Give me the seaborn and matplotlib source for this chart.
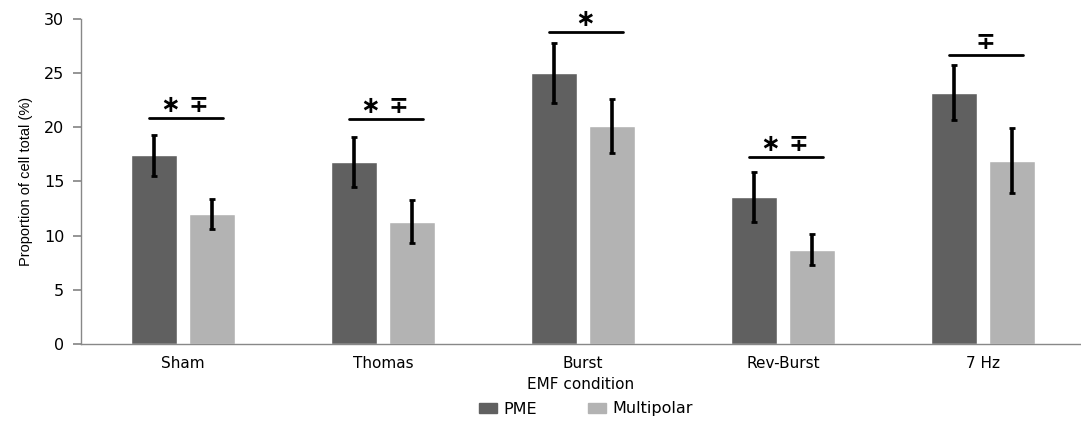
import numpy as np
import pandas as pd
import matplotlib
matplotlib.use("Agg")
import matplotlib.pyplot as plt
import seaborn as sns

# datos
conditions = ["Sham", "Thomas", "Burst", "Rev-Burst", "7 Hz"]
pme_mean = [17.4, 16.8, 25.0, 13.6, 23.2]
pme_err = [1.9, 2.3, 2.8, 2.3, 2.55]
multi_mean = [12.0, 11.3, 20.1, 8.7, 16.9]
multi_err = [1.4, 1.95, 2.5, 1.45, 3.0]
sig_labels = ["\u2217 \u2213", "\u2217 \u2213", "\u2217", "\u2217 \u2213", "\u2213"]
sig_level = [20.9, 20.8, 28.8, 17.3, 26.7]

df = pd.DataFrame({
    "condition": conditions * 2,
    "value": pme_mean + multi_mean,
    "err": pme_err + multi_err,
    "type": ["PME"] * 5 + ["Multipolar"] * 5,
})

sns.set_theme(style="white")
plt.rcParams["font.family"] = ["DejaVu Sans"]
plt.rcParams["text.color"] = "black"
plt.rcParams["axes.labelcolor"] = "black"
plt.rcParams["xtick.color"] = "black"
plt.rcParams["ytick.color"] = "black"

fig = plt.figure(figsize=(10.81, 4.21), dpi=100)
ax = fig.add_axes([81 / 1081, 77 / 421, 1000 / 1081, 325 / 421])

palette = {"PME": "#606060", "Multipolar": "#b3b3b3"}
sns.barplot(data=df, x="condition", y="value", hue="type", palette=palette,
            width=0.58, gap=0.2, errorbar=None, saturation=1, ax=ax,
            legend=False)

# barras de error a mano, usando la posicion de cada barra
bars = ax.patches[:10]
for bar, e in zip(bars, pme_err + multi_err):
    xc = bar.get_x() + bar.get_width() / 2
    ax.errorbar(xc, bar.get_height(), yerr=e, color="black", lw=2.6,
                capsize=2.5, capthick=2.0, zorder=5)

# lineas de significancia
for i, (lab, lvl) in enumerate(zip(sig_labels, sig_level)):
    ax.plot([i - 0.17, i + 0.2], [lvl, lvl], color="black", lw=2.0)
    ax.text(i + 0.01, lvl + 0.05, lab, ha="center", va="bottom",
            fontsize=17, fontweight="bold")

ax.set_xlim(-0.51, 4.49)
ax.set_ylim(0, 30)
ax.set_yticks(range(0, 31, 5))
ax.tick_params(axis="y", length=6, color="#888888", labelsize=11.5, pad=6,
               left=True)
ax.tick_params(axis="x", length=0, labelsize=11, pad=9)
sns.despine(ax=ax)
for s in ["left", "bottom"]:
    ax.spines[s].set_color("#888888")
    ax.spines[s].set_linewidth(1.0)

ax.set_xlabel("EMF condition", fontsize=11, labelpad=4)
ax.set_ylabel("Proportion of cell total (%)", fontsize=10.5,
              family="Liberation Sans", labelpad=8)

handles = [plt.Rectangle((0, 0), 1, 1, color=palette[k]) for k in ["PME", "Multipolar"]]
fig.legend(handles, ["PME", "Multipolar"], loc="center",
           bbox_to_anchor=(586 / 1081, 1 - 409 / 421), ncol=2, frameon=False,
           fontsize=11.5, handlelength=1.1, handleheight=0.6, columnspacing=3.2,
           handletextpad=0.4)

fig.savefig("out.png", dpi=100)
